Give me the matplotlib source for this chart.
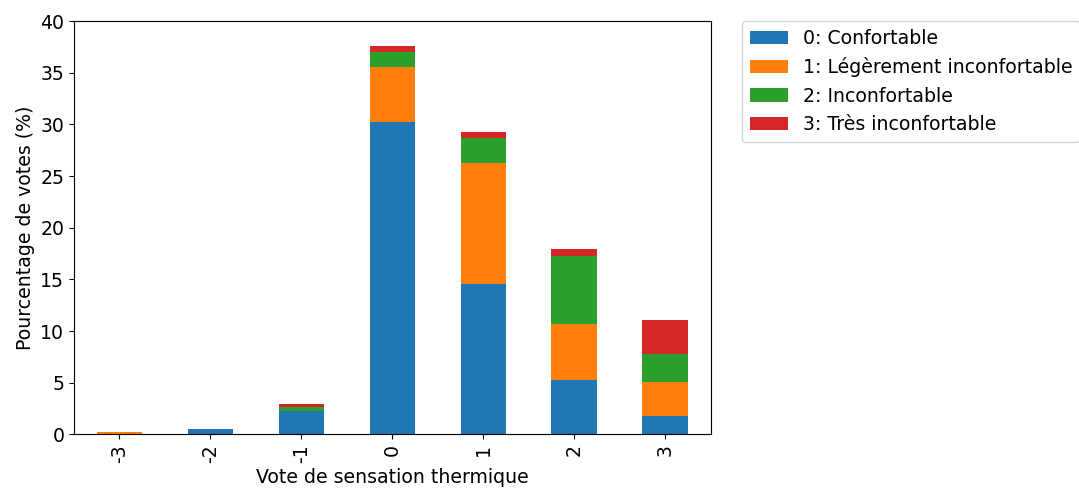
import numpy as np
import matplotlib
matplotlib.use("Agg")
import matplotlib.pyplot as plt

votes = ["-3", "-2", "-1", "0", "1", "2", "3"]
confortable = [0.0, 0.5, 2.3, 30.2, 14.6, 5.3, 1.75]
leger = [0.22, 0.0, 0.0, 5.4, 11.7, 5.4, 3.3]
inconf = [0.0, 0.0, 0.3, 1.4, 2.4, 6.6, 2.7]
tres = [0.0, 0.0, 0.3, 0.6, 0.6, 0.6, 3.3]

series = [confortable, leger, inconf, tres]
labels = ["0: Confortable", "1: Légèrement inconfortable",
          "2: Inconfortable", "3: Très inconfortable"]
colors = ["#1f77b4", "#ff7f0e", "#2ca02c", "#d62728"]

plt.rcParams["font.size"] = 13.6

fig = plt.figure(figsize=(10.79, 4.93), dpi=100)
ax = fig.add_axes([0.0686, 0.119, 0.590, 0.838])

x = np.arange(len(votes))
bottom = np.zeros(len(votes))
for vals, lab, col in zip(series, labels, colors):
    ax.bar(x, vals, width=0.5, bottom=bottom, color=col, label=lab)
    bottom += np.array(vals)

ax.set_xlim(-0.5, len(votes) - 0.5)
ax.set_ylim(0, 40)
ax.set_xticks(x)
ax.set_xticklabels(votes, rotation=90)
ax.set_xlabel("Vote de sensation thermique")
ax.set_ylabel("Pourcentage de votes (%)")
ax.legend(loc="upper left", bbox_to_anchor=(1.05, 1.0), borderaxespad=0)

fig.savefig("out.png", dpi=100)
